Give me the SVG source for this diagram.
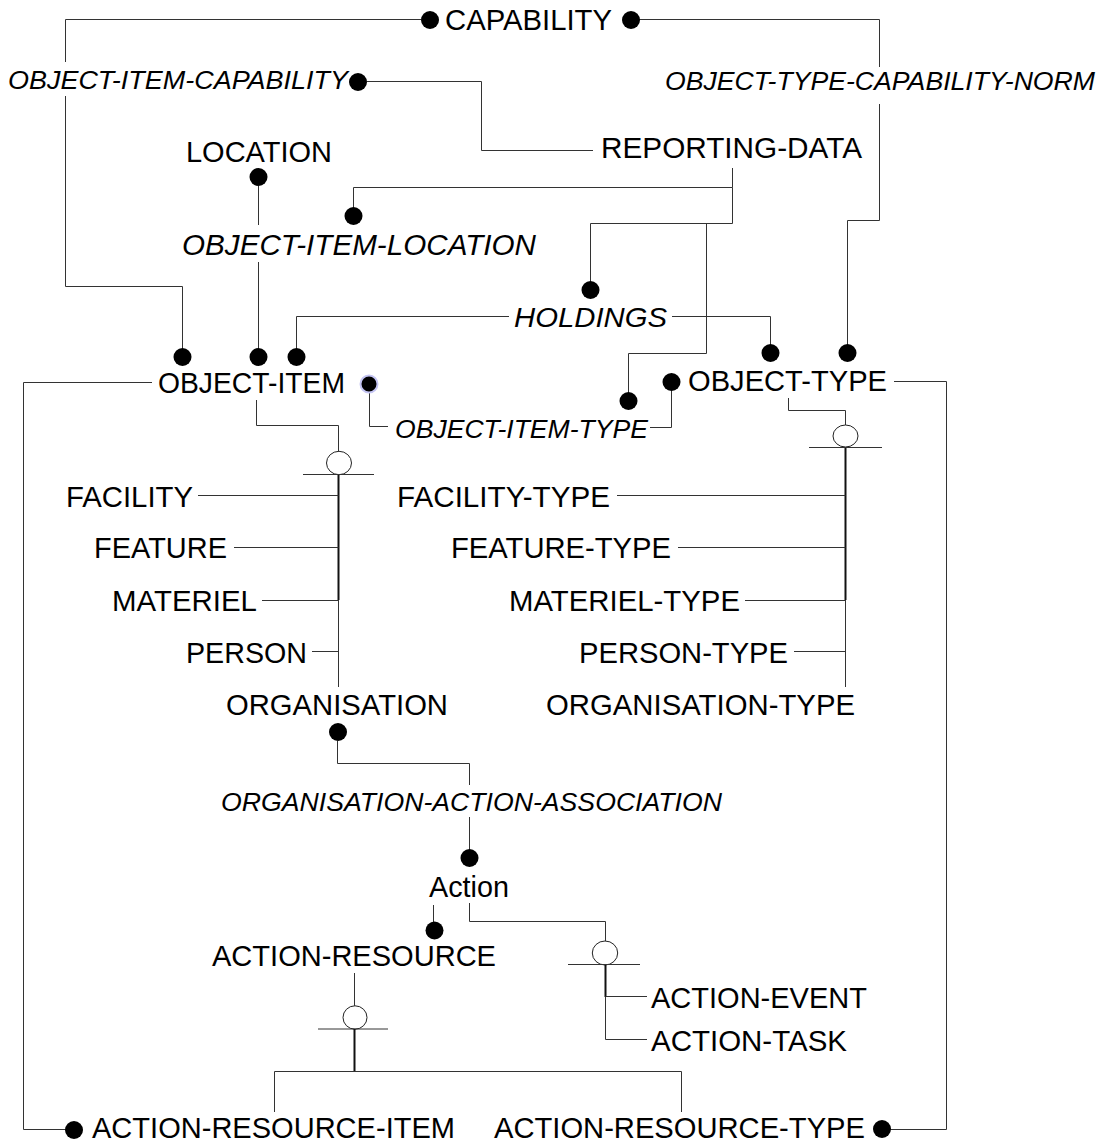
<svg xmlns="http://www.w3.org/2000/svg" width="1107" height="1143" viewBox="0 0 1107 1143">
  <style>
    .bg { fill: #ffffff; }
    .lbl { font-family: "Liberation Sans", Arial, sans-serif; font-size: 29px; fill: #000; }
    .rel { font-family: "Liberation Sans", Arial, sans-serif; font-size: 26.5px; font-style: italic; fill: #000; }
    .ln { fill: none; stroke: #333; stroke-width: 1; }
    .thick { fill: none; stroke: #111; stroke-width: 2; }
    .dot { fill: #000; }
    .sub { fill: #fff; stroke: #222; stroke-width: 1; }
    .sel { fill: #000; stroke: #c4c4f2; stroke-width: 2; }
  </style>
  <rect class="bg" x="0" y="0" width="1107" height="1143"/>

  <!-- entities -->
  <g id="capability"><text class="lbl" x="445" y="30" textLength="167" lengthAdjust="spacingAndGlyphs">CAPABILITY</text></g>
  <g id="reporting-data"><text class="lbl" x="601" y="158" textLength="261" lengthAdjust="spacingAndGlyphs">REPORTING-DATA</text></g>
  <g id="location"><text class="lbl" x="186" y="162" textLength="146" lengthAdjust="spacingAndGlyphs">LOCATION</text></g>
  <g id="object-item"><text class="lbl" x="158" y="393" textLength="187" lengthAdjust="spacingAndGlyphs">OBJECT-ITEM</text></g>
  <g id="object-type"><text class="lbl" x="688" y="391" textLength="199" lengthAdjust="spacingAndGlyphs">OBJECT-TYPE</text></g>
  <g id="facility"><text class="lbl" x="66" y="507" textLength="127" lengthAdjust="spacingAndGlyphs">FACILITY</text></g>
  <g id="feature"><text class="lbl" x="94" y="558" textLength="133" lengthAdjust="spacingAndGlyphs">FEATURE</text></g>
  <g id="materiel"><text class="lbl" x="112" y="611" textLength="145" lengthAdjust="spacingAndGlyphs">MATERIEL</text></g>
  <g id="person"><text class="lbl" x="186" y="663" textLength="121" lengthAdjust="spacingAndGlyphs">PERSON</text></g>
  <g id="organisation"><text class="lbl" x="226" y="715" textLength="222" lengthAdjust="spacingAndGlyphs">ORGANISATION</text></g>
  <g id="facility-type"><text class="lbl" x="397" y="507" textLength="213" lengthAdjust="spacingAndGlyphs">FACILITY-TYPE</text></g>
  <g id="feature-type"><text class="lbl" x="451" y="558" textLength="220" lengthAdjust="spacingAndGlyphs">FEATURE-TYPE</text></g>
  <g id="materiel-type"><text class="lbl" x="509" y="611" textLength="231" lengthAdjust="spacingAndGlyphs">MATERIEL-TYPE</text></g>
  <g id="person-type"><text class="lbl" x="579" y="663" textLength="209" lengthAdjust="spacingAndGlyphs">PERSON-TYPE</text></g>
  <g id="organisation-type"><text class="lbl" x="546" y="715" textLength="309" lengthAdjust="spacingAndGlyphs">ORGANISATION-TYPE</text></g>
  <g id="action"><text class="lbl" x="429" y="897" textLength="80" lengthAdjust="spacingAndGlyphs">Action</text></g>
  <g id="action-resource"><text class="lbl" x="212" y="966" textLength="284" lengthAdjust="spacingAndGlyphs">ACTION-RESOURCE</text></g>
  <g id="action-event"><text class="lbl" x="651" y="1008" textLength="216" lengthAdjust="spacingAndGlyphs">ACTION-EVENT</text></g>
  <g id="action-task"><text class="lbl" x="651" y="1051" textLength="196" lengthAdjust="spacingAndGlyphs">ACTION-TASK</text></g>
  <g id="action-resource-item"><text class="lbl" x="92" y="1138" textLength="363" lengthAdjust="spacingAndGlyphs">ACTION-RESOURCE-ITEM</text></g>
  <g id="action-resource-type"><text class="lbl" x="494" y="1138" textLength="371" lengthAdjust="spacingAndGlyphs">ACTION-RESOURCE-TYPE</text></g>

  <!-- associative entities (italic) -->
  <g id="object-item-capability"><text class="rel" x="8" y="89" textLength="340" lengthAdjust="spacingAndGlyphs">OBJECT-ITEM-CAPABILITY</text></g>
  <g id="object-type-capability-norm"><text class="rel" x="665" y="90" textLength="430" lengthAdjust="spacingAndGlyphs">OBJECT-TYPE-CAPABILITY-NORM</text></g>
  <g id="object-item-location"><text class="rel" x="182" y="255" style="font-size:29px" textLength="354" lengthAdjust="spacingAndGlyphs">OBJECT-ITEM-LOCATION</text></g>
  <g id="holdings"><text class="rel" x="514" y="327" style="font-size:28px" textLength="153" lengthAdjust="spacingAndGlyphs">HOLDINGS</text></g>
  <g id="object-item-type"><text class="rel" x="395" y="438" textLength="253" lengthAdjust="spacingAndGlyphs">OBJECT-ITEM-TYPE</text></g>
  <g id="organisation-action-association"><text class="rel" x="221" y="811" textLength="501" lengthAdjust="spacingAndGlyphs">ORGANISATION-ACTION-ASSOCIATION</text></g>

  <!-- relationships -->
  <g id="connectors">
    <!-- CAPABILITY / OBJECT-ITEM-CAPABILITY / OBJECT-ITEM -->
    <path class="ln" d="M421,19.5 H65.5 V62 M65.5,96 V286.5 H182.5 V350"/>
    <circle class="dot" cx="430" cy="20" r="9"/>
    <circle class="dot" cx="182.5" cy="357" r="9"/>
    <!-- CAPABILITY / OBJECT-TYPE-CAPABILITY-NORM / OBJECT-TYPE -->
    <path class="ln" d="M639,19.5 H879.5 V67 M879.5,104 V220.5 H847.5 V346"/>
    <circle class="dot" cx="631" cy="20" r="9"/>
    <circle class="dot" cx="847.5" cy="353" r="9"/>
    <!-- OBJECT-ITEM-CAPABILITY / REPORTING-DATA -->
    <path class="ln" d="M367,81.5 H481.5 V150.5 H593"/>
    <circle class="dot" cx="358" cy="82" r="9"/>
    <!-- LOCATION / OBJECT-ITEM-LOCATION / OBJECT-ITEM -->
    <path class="ln" d="M258.5,186 V225 M258.5,262 V350"/>
    <circle class="dot" cx="258.5" cy="177" r="9"/>
    <circle class="dot" cx="258.5" cy="357" r="9"/>
    <!-- REPORTING-DATA / OBJECT-ITEM-LOCATION -->
    <path class="ln" d="M732.5,168 V187.5 H353.5 V208"/>
    <circle class="dot" cx="353.5" cy="216" r="9"/>
    <!-- REPORTING-DATA / HOLDINGS -->
    <path class="ln" d="M732.5,187.5 V223.5 H590.5 V282"/>
    <circle class="dot" cx="590.5" cy="290" r="9"/>
    <!-- REPORTING-DATA / OBJECT-ITEM-TYPE -->
    <path class="ln" d="M706.5,223.5 V353.5 H628.5 V393"/>
    <circle class="dot" cx="628.5" cy="401" r="9"/>
    <!-- HOLDINGS / OBJECT-ITEM and OBJECT-TYPE -->
    <path class="ln" d="M509,316.5 H296.5 V350"/>
    <circle class="dot" cx="296.5" cy="357" r="9"/>
    <path class="ln" d="M672,316.5 H770.5 V346"/>
    <circle class="dot" cx="770.5" cy="353" r="9"/>
    <!-- OBJECT-ITEM-TYPE -->
    <path class="ln" d="M369.5,392 V426.5 H388"/>
    <circle class="sel" cx="369" cy="384" r="8.5"/>
    <path class="ln" d="M650,427.5 H671.5 V390"/>
    <circle class="dot" cx="671.5" cy="382" r="9"/>
    <!-- OBJECT-ITEM / ACTION-RESOURCE-ITEM -->
    <path class="ln" d="M152,382.5 H23.5 V1129.5 H66"/>
    <circle class="dot" cx="74" cy="1130" r="9"/>
    <!-- OBJECT-TYPE / ACTION-RESOURCE-TYPE -->
    <path class="ln" d="M894,381.5 H946.5 V1129.5 H890"/>
    <circle class="dot" cx="882" cy="1129" r="9"/>

    <!-- OBJECT-ITEM subtypes -->
    <path class="ln" d="M256.5,400 V425.5 H338.5 V451"/>
    <ellipse class="sub" cx="339" cy="463" rx="12.5" ry="11.7"/>
    <path class="ln" d="M303,474.5 H374"/>
    <path class="thick" d="M338.5,475 V600"/>
    <path class="ln" d="M338.5,600 V687"/>
    <path class="ln" d="M198,495.5 H338.5 M234,547.5 H338.5 M262,600.5 H338.5 M312,651.5 H338.5"/>

    <!-- OBJECT-TYPE subtypes -->
    <path class="ln" d="M788.5,398 V410.5 H845.5 V425"/>
    <ellipse class="sub" cx="845.5" cy="436" rx="12.5" ry="11"/>
    <path class="ln" d="M809,447.5 H882"/>
    <path class="thick" d="M845.5,448 V600"/>
    <path class="ln" d="M845.5,600 V687"/>
    <path class="ln" d="M617,495.5 H845.5 M678,547.5 H845.5 M745,600.5 H845.5 M794,651.5 H845.5"/>

    <!-- ORGANISATION / ORGANISATION-ACTION-ASSOCIATION / Action -->
    <circle class="dot" cx="338" cy="732" r="9"/>
    <path class="ln" d="M337.5,741 V763.5 H469.5 V785 M469.5,817 V850"/>
    <circle class="dot" cx="469.5" cy="858" r="9"/>

    <!-- Action / ACTION-RESOURCE -->
    <path class="ln" d="M433.5,905 V922"/>
    <circle class="dot" cx="434.5" cy="930.5" r="9"/>

    <!-- Action subtypes -->
    <path class="ln" d="M469.5,903 V921.5 H605.5 V941"/>
    <ellipse class="sub" cx="605" cy="953" rx="12.7" ry="12"/>
    <path class="ln" d="M568,964.5 H640"/>
    <path class="thick" d="M605.5,965 V997"/>
    <path class="ln" d="M605.5,997 V1039.5"/>
    <path class="ln" d="M605.5,996.5 H647 M605.5,1039.5 H647"/>

    <!-- ACTION-RESOURCE subtypes -->
    <path class="ln" d="M354.5,973 V1006"/>
    <ellipse class="sub" cx="355" cy="1017.5" rx="12" ry="11.7"/>
    <path class="ln" d="M318,1029 H388"/>
    <path class="thick" d="M354.5,1029 V1071"/>
    <path class="ln" d="M274.5,1112 V1071.5 H681.5 V1112"/>
  </g>
</svg>
